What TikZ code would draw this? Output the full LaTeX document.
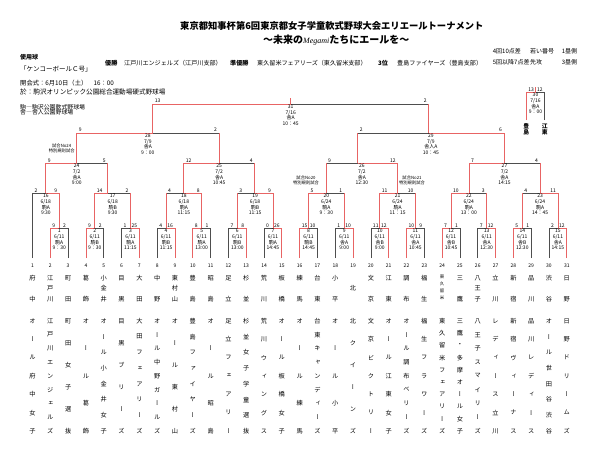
\documentclass[tikz,border=0pt]{standalone}
\usepackage{fontspec}
\setmainfont{Noto Sans CJK JP}
\newfontfamily\vjp{Noto Sans CJK JP}[RawFeature=+vert]
\newfontfamily\lserif{Liberation Serif}
\usetikzlibrary{calc}

\definecolor{winred}{RGB}{232,100,100}
\definecolor{losegray}{RGB}{78,78,78}

% vertical text: one node per character, spread from top to bottom
\newcount\nch
\newcount\ich
\def\vextra{}
\def\countA#1{\ifx\relax#1\else\advance\nch by 1 \expandafter\countA\fi}
\def\placeA#1{\ifx\relax#1\else
  \ifnum\nch=1 \pgfmathsetmacro\vy{(\vtop+\vbot)/2}%
  \else\pgfmathsetmacro\vy{\vtop+\the\ich*(\vbot-\vtop)/(\the\nch-1)}\fi
  \node[vch,font=\vjp\vextra\fontsize{\vfs}{\vfs}\selectfont] (\vname-\the\ich) at (\vx,\vy) {#1};%
  \advance\ich by 1 \expandafter\placeA\fi}
\newcommand\vtext[6]{%
  \def\vname{#1}\def\vx{#2}\def\vtop{#3}\def\vbot{#4}\def\vfs{#5}%
  \nch=0 \expandafter\countA#6\relax
  \ich=0 \expandafter\placeA#6\relax}

\begin{document}
\begin{tikzpicture}[x=1pt,y=-1pt,
    win/.style={draw=winred,line width=0.75pt},
    lose/.style={draw=losegray,line width=0.7pt},
    score/.style={font=\fontsize{5}{5}\selectfont,inner sep=0.3pt},
    scl/.style={score,anchor=south west,xshift=1.6pt,yshift=0.6pt},
    scr/.style={score,anchor=south east,xshift=-1.6pt,yshift=0.6pt},
    gamelab/.style={font=\fontsize{5}{5.6}\selectfont,align=center,inner sep=0pt,anchor=north},
    note/.style={font=\fontsize{4.3}{5}\selectfont,align=center,inner sep=0pt},
    vch/.style={inner sep=0pt},
    num/.style={font=\fontsize{5}{5}\selectfont,inner sep=0pt},
    head/.style={anchor=west,inner sep=0pt}]
    \useasboundingbox[fill=white] (0,0) rectangle (599,453);

    % header
    \node[head,font=\bfseries\fontsize{9.3}{9.3}\selectfont] (title) at (180,25.7)
        {東京都知事杯第6回東京都女子学童軟式野球大会エリエールトーナメント};
    \node[head,font=\bfseries\fontsize{10}{10}\selectfont] (subtitle) at (263,40)
        {～未来の{\lserif\mdseries\itshape\fontsize{8}{8}\selectfont Megami}たちにエールを～};
    \node[head,font=\bfseries\fontsize{6}{6}\selectfont] (ball) at (20,57) {使用球};
    \node[head,font=\fontsize{6.5}{6.5}\selectfont] (ballname) at (20,69.3) {「ケンコーボールＣ号」};
    \node[head,font=\fontsize{6.3}{6.3}\selectfont] (opening) at (20,83.3) {開会式：6月10日（土）　16：00};
    \node[head,font=\fontsize{6.6}{6.6}\selectfont] (place) at (20,92) {於：駒沢オリンピック公園総合運動場硬式野球場};
    \node[head,font=\fontsize{5.9}{5.9}\selectfont] (koma) at (20,107) {駒―駒沢公園軟式野球場};
    \node[head,font=\fontsize{5.9}{5.9}\selectfont] (toneri) at (20,112.5) {舎―舎人公園野球場};
    \foreach \x/\t/\b in {105/優勝/1,124/江戸川エンジェルズ（江戸川支部）/0,230/準優勝/1,
        257/東久留米フェアリーズ（東久留米支部）/0,378/3位/1,397/豊島ファイヤーズ（豊島支部）/0}{
        \ifnum\b=1
            \node[head,font=\bfseries\fontsize{6.1}{6.1}\selectfont] (res\x) at (\x,62.8) {\t};
        \else
            \node[head,font=\fontsize{6.1}{6.1}\selectfont] (res\x) at (\x,62.8) {\t};
        \fi
    }
    \foreach \x/\y/\t in {492.7/51.7/4回10点差,530/51.7/若い番号,561.7/51.7/1塁側,
        492.7/62.3/5回以降7点差,530/62.3/先攻,561.7/62.3/3塁側}
        \node[head,font=\fontsize{6}{6}\selectfont] (rule\x-\y) at (\x,\y) {\t};

    % teams and games
    \foreach \i in {1,...,31}
        \coordinate (t\i) at ({32.5+(\i-1)*17.81},258);
    \foreach \g in {1,...,15}
        \coordinate (g\g) at ({32.5+(2*\g-0.5)*17.81},228.3);
    \foreach \g/\x/\y in {16/45.7/193.3,17/107.7/193.3,18/183.7/193.3,19/254.7/193.3,
        20/326/193.3,21/397.7/193.3,22/469/193.3,23/540/193.3,
        24/76.7/163.3,25/219/163.3,26/357.7/163.3,27/504/163.3,
        28/152.7/133,29/428.7/133,31/290.7/104}
        \coordinate (g\g) at (\x,\y);
    \coordinate (champ) at (290.7,98);
    \coordinate (b3l) at (526.3,120);
    \coordinate (b3r) at (544.7,120);
    \coordinate (g30) at (535.5,92.3);
    \coordinate (bronze) at (535.5,86.7);

    % team lines
    \foreach \t/\g/\c in {3/1/lose,2/1/win,5/2/lose,4/2/win,6/3/lose,7/3/win,8/4/lose,9/4/win,
        11/5/lose,10/5/win,12/6/lose,13/6/win,14/7/lose,15/7/win,17/8/lose,16/8/win,
        18/9/lose,19/9/win,20/10/lose,21/10/win,23/11/lose,22/11/win,25/12/lose,24/12/win,
        26/13/lose,27/13/win,29/14/lose,28/14/win,30/15/lose,31/15/win,1/16/lose}
        \draw[\c] (t\t) |- (g\g);

    % winners going up
    \foreach \a/\b/\c in {1/16/win,3/17/lose,2/17/win,4/18/lose,5/18/win,6/19/lose,7/19/win,
        9/20/lose,8/20/win,11/21/lose,10/21/win,13/22/lose,12/22/win,14/23/lose,15/23/win,
        17/24/lose,16/24/win,19/25/lose,18/25/win,20/26/lose,21/26/win,23/27/lose,22/27/win,
        25/28/lose,24/28/win,26/29/lose,27/29/win,29/31/lose,28/31/win}{
        \draw[\c] (g\a |- g\b) -- (g\b);
        \draw[win] (g\a) -- (g\a |- g\b);
    }
    \draw[win] (g31) -- (champ);

    % third place
    \draw[lose] (b3r) |- (g30);
    \draw[win] (b3l) |- (g30);
    \draw[win] (g30) -- (bronze);

    % scores and game labels
    \foreach \g/\ca/\cb/\sa/\sb/\gd/\gv/\gt in {
        1/t2/t3/9/2/{6/11}/駒A/9：30, 2/t4/t5/9/2/{6/11}/駒B/9：30,
        3/t6/t7/1/25/{6/11}/駒A/11:15, 4/t8/t9/4/16/{6/11}/駒B/11:15,
        5/t10/t11/8/1/{6/11}/駒A/13:00, 6/t12/t13/7/8/{6/11}/駒B/13:00,
        7/t14/t15/0/26/{6/11}/駒A/14:45, 8/t16/t17/15/10/{6/11}/駒B/14:45,
        9/t18/t19/1/10/{6/11}/舎A/9:00, 10/t20/t21/11/12/{6/11}/舎B/9:00,
        11/t22/t23/10/9/{6/11}/舎A/10:45, 12/t24/t25/7/1/{6/11}/舎B/10:45,
        13/t26/t27/7/12/{6/11}/舎A/12:30, 14/t28/t29/5/1/{6/11}/舎B/12:30,
        15/t30/t31/2/12/{6/11}/舎A/14:15,
        16/t1/g1/2/9/{6/18}/駒A/9:30, 17/g2/g3/14/2/{6/18}/駒B/9:30,
        18/g4/g5/4/8/{6/18}/駒A/11:15, 19/g6/g7/3/9/{6/18}/駒B/11:15,
        20/g8/g9/5/1/{6/24}/駒A/9：30, 21/g10/g11/11/10/{6/24}/駒A/11：15,
        22/g12/g13/10/3/{6/24}/駒A/13：00, 23/g14/g15/4/11/{6/24}/駒A/14：45,
        24/g16/g17/9/5/{7/2}/舎A/9:00, 25/g18/g19/12/4/{7/2}/舎A/10:45,
        26/g20/g21/9/12/{7/2}/舎A/12:30, 27/g22/g23/7/4/{7/2}/舎A/14:15,
        28/g24/g25/9/2/{7/9}/舎A/9：00, 29/g26/g27/2/6/{7/9}/舎人A/10：45,
        31/g28/g29/13/2/{7/16}/舎A/10：45, 30/b3l/b3r/13/12/{7/16}/舎A/9：00}{
        \node[scl] (sa\g) at (\ca |- g\g) {\sa};
        \node[scr] (sb\g) at (\cb |- g\g) {\sb};
        \node[gamelab] (lab\g) at ($(\ca |- g\g)!0.5!(\cb |- g\g)+(0,0.8)$) {\g\\\gd\\\gv\\\gt};
    }

    % notes on special rules
    \node[note] (note24) at (61.7,148) {試合No24\\特別規則試合};
    \node[note] (note20) at (306,180.8) {試合No20\\特別規則試合};
    \node[note] (note21) at (412,180.8) {試合No21\\特別規則試合};

    % third place teams
    {\def\vextra{\bfseries}
    \vtext{p3l}{526.3}{126.3}{132.3}{5.8}{豊島}
    \vtext{p3r}{544.7}{126.3}{132.3}{5.8}{江東}}

    % team numbers and names
    \foreach \i/\ab/\fn in {1/府中/オール府中女子, 2/江戸川/江戸川エンジェルズ, 3/町田/町田女子選抜,
        4/葛飾/オール葛飾, 5/小金井/オール小金井女子, 6/目黒/目黒ブリーズ, 7/大田/大田フェアリーズ,
        8/中野/オール中野ガールズ, 9/東村山/オール東村山, 10/豊島/豊島ファイヤーズ, 11/昭島/オール昭島,
        12/足立/足立フェアリー, 13/杉並/杉並女子学童選抜, 14/荒川/荒川ウィングス, 15/板橋/オール板橋女子,
        16/練馬/オール練馬, 17/台東/台東キャンディーズ, 18/小平/オール小平, 19/北/北クイーンズ,
        20/文京/文京ビクトリー, 21/江東/オール江東女子, 22/調布/オール調布ベリーズ, 23/福生/福生フラワーズ,
        24/東久留米/東久留米フェアリーズ, 25/三鷹/三鷹・多摩オール女子, 26/八王子/八王子スマイリーズ,
        27/立川/レディース立川, 28/新宿/新宿ヴィーナス, 29/品川/品川レディース, 30/渋谷/オール世田谷渋谷,
        31/日野/日野ドリームズ}{
        \pgfmathsetmacro\tx{32.5+(\i-1)*17.81}
        \node[num] (n\i) at (\tx,266) {\i};
        \ifnum\i=24
            \vtext{a\i}{\tx}{276.5}{297.5}{4.4}{\ab}
        \else
            \vtext{a\i}{\tx}{278}{299}{6.2}{\ab}
        \fi
        \vtext{f\i}{\tx}{321}{431}{6.2}{\fn}
    }
\end{tikzpicture}
\end{document}
